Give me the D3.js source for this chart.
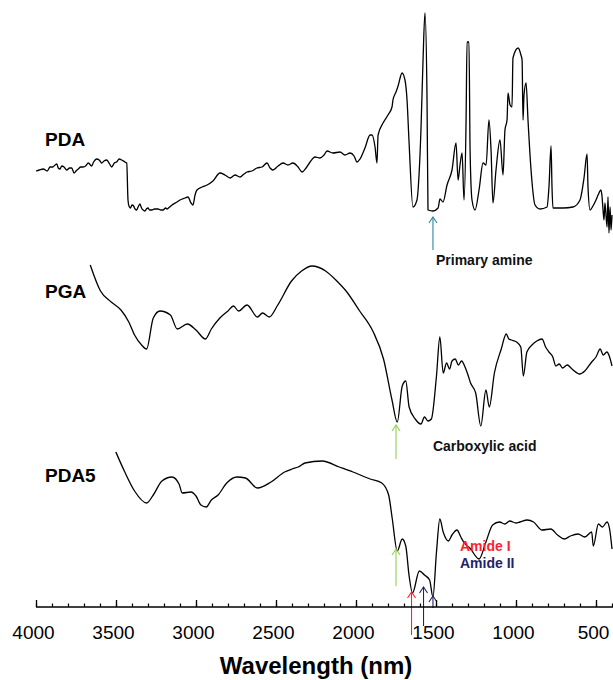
<!DOCTYPE html>
<html>
<head>
<meta charset="utf-8">
<script src="https://cdn.jsdelivr.net/npm/d3@7"></script>
<style>
  body { margin: 0; background: #fff; }
  svg { display: block; font-family: Arial, "Liberation Sans", sans-serif; }
</style>
</head>
<body>
<svg id="chart" width="613" height="680"></svg>
<script>
// wavenumber (cm-1) and transmittance (a.u.)
const pdaWn = [4000,3980,3954,3930,3912,3895,3881,3870,3861,3850,3839,3825,3808,3790,3777,3762,3750,3736,3720,3704,3690,
  3673,3652,3640,3621,3605,3589,3575,3558,3540,3527,3510,3496,3480,3464,3444,3433,
  3425,3419,3410,3400,3390,3381,3370,3362,3350,3345,3337,3330,3319,3310,3300,3290,3275,3260,3237,3220,3206,3190,3181,3165,
  3150,3119,3100,3069,3050,3031,3019,3006,2994,2962,2931,
  2894,2850,2819,2787,2756,2725,2700,2681,2650,2619,2587,2556,2537,2519,2487,2456,2425,2394,2362,2337,2312,2287,2256,2225,
  2200,2181,2144,2100,2069,2037,2012,1994,1975,1944,1912,1900,1881,1869,1862,1831,1800,1775,1769,1750,1737,1712,1694,1681,
  1669,1644,1619,1606,1594,1581,1569,1556,1550,1519,1487,1475,1456,1431,1400,1375,1362,1350,1337,1325,1312,1306,1294,1287,
  1275,1256,1231,1206,1187,1169,1156,1144,1125,1100,1081,1069,1056,1050,1037,1025,1019,987,969,962,956,950,937,925,906,881,
  850,806,794,781,775,769,744,706,644,600,575,556,550,537,519,500,487,469,462,456,450,444,431,425,419,412,406,400];
const pdaT = [66,67,68,66,70,70,72,73,69,68,71,70,67,69,69,64,66,68,70,70,71,
  74,71,75,78,77,74,76,77,73,70,74,75,78,77,75,74,
  37,31,29,32,31,28,27,30,33,31,28,27,26,28,29,27,27,28,28,27,27,29,28,30,
  32,35,37,39,40,34,32,42,47,50,52,
  56,64,62,59,62,60,63,65,66,69,70,74,69,67,71,74,72,74,70,65,69,75,80,79,
  82,86,84,85,82,84,81,75,78,89,102,102,90,74,102,114,122,130,137,145,151,164,157,137,
  97,30,37,62,107,177,224,137,27,26,29,38,35,52,67,94,57,72,84,37,117,195,195,87,
  37,27,47,74,72,117,87,34,67,97,62,107,117,144,132,130,179,189,182,177,117,142,154,117,67,32,
  28,30,50,91,50,29,29,29,30,37,59,83,50,27,31,37,42,47,40,27,17,34,10,40,4,30,7,22];

const pgaWn = [3661,3597,3530,3469,3420,3384,3340,3309,3267,3225,3160,3117,3054,3000,2941,2904,2851,2800,2766,2734,2681,
  2616,2584,2542,2489,2403,2340,2275,2190,2120,2062,1977,1892,1828,1775,1742,1711,1689,1668,1630,1594,1572,1550,1529,1497,
  1476,1455,1434,1415,1400,1380,1360,1340,1316,1300,1284,1252,1220,1188,1167,1135,1092,1061,1045,1029,996,970,954,932,
  900,870,837,815,794,770,751,730,709,680,650,602,570,527,500,474,455,432,415,400];
const pgaT = [162,136,125,117,105,92,82,78,109,116,112,98,103,97,88,98,109,116,121,116,122,
  110,114,110,122,146,156,161,156,146,136,116,95,68,27,5,41,46,20,8,3,10,6,8,51,
  90,54,64,58,66,68,62,66,59,52,44,34,1,37,20,54,78,93,88,87,85,80,51,75,
  82,86,88,80,75,70,61,63,59,62,58,53,56,65,70,78,72,75,70,61];

const pda5Wn = [3501,3448,3384,3309,3267,3213,3150,3106,3086,3032,3000,2969,2936,2904,2862,2808,2744,2691,2616,2531,2446,
  2400,2361,2319,2211,2105,2019,1912,1839,1796,1774,1742,1711,1689,1668,1647,1604,1572,1540,1519,1497,1476,1455,1423,1400,
  1369,1345,1327,1284,1231,1188,1146,1103,1070,1039,1000,975,930,890,837,783,740,698,660,612,570,527,517,485,460,431,415,400];
const pda5T = [155,136,116,104,112,126,130,123,114,115,111,102,100,107,112,124,130,129,119,125,135,
  138,140,144,146,140,135,128,124,112,89,56,68,61,31,14,36,32,27,10,55,88,75,66,72,
  77,70,65,58,48,65,82,85,83,86,84,85,87,85,77,78,72,68,71,73,70,75,61,83,80,85,78,58];

const spectra = [
  { name: 'PDA', wn: pdaWn, t: pdaT, offset: 370 },
  { name: 'PGA', wn: pgaWn, t: pgaT, offset: 180 },
  { name: 'PDA5', wn: pda5Wn, t: pda5T, offset: 0 }
];

// arrows: spectrum, wavenumber, tail and head in that spectrum's units
const arrows = [
  { s: 0, wn: 1519, from: -13, to: 20, color: '#31849b' },
  { s: 1, wn: 1750, from: -32, to: 2, color: '#92d050' },
  { s: 2, wn: 1750, from: 21, to: 58, color: '#92d050' },
  { s: 2, wn: 1653, from: -28, to: 15, color: '#ff1f2f' },
  { s: 2, wn: 1578, from: -19, to: 20, color: '#1f2469' },
  { s: 2, wn: 1519, from: -1, to: 11, color: '#1f2469' }
];
const notes = [
  { s: 0, wn: 1500, t: -28, text: 'Primary amine', color: '#111' },
  { s: 1, wn: 1519, t: -24, text: 'Carboxylic acid', color: '#111' },
  { s: 2, wn: 1350, t: 56, text: 'Amide I', color: '#ff1f2f' },
  { s: 2, wn: 1350, t: 39, text: 'Amide II', color: '#1f2469' }
];
const majorTicks = [4000, 3500, 3000, 2500, 2000, 1500, 1000, 500];

const svg = d3.select('#chart');
const axisY = 607;

const x = d3.scaleLinear().domain([4000, 400]).range([36, 612]);
const y = d3.scaleLinear().domain([0, 600]).range([axisY, 7]);
const yOf = (s, v) => y(v + spectra[s].offset);

const line = d3.line().curve(d3.curveMonotoneX);

spectra.forEach((sp, i) => {
  const pts = sp.wn.map((w, k) => [x(w), yOf(i, sp.t[k])]);
  svg.append('path')
    .attr('d', line(pts))
    .attr('fill', 'none')
    .attr('stroke', '#000')
    .attr('stroke-width', 1.3)
    .attr('stroke-linejoin', 'round');
});

// spectrum names
const labelY = [146, 298, 482];
spectra.forEach((sp, i) => {
  svg.append('text')
    .attr('x', 45).attr('y', labelY[i])
    .style('font-size', '19px').style('font-weight', 'bold')
    .text(sp.name);
});

// arrows
arrows.forEach(a => {
  const ax = x(a.wn), y0 = yOf(a.s, a.from), y1 = yOf(a.s, a.to);
  const g = svg.append('g').attr('stroke', a.color).attr('fill', 'none').attr('stroke-width', 1.1);
  g.append('line').attr('x1', ax).attr('x2', ax).attr('y1', y0).attr('y2', y1);
  g.append('path').attr('d', `M${ax - 4},${y1 + 6}L${ax},${y1}L${ax + 4},${y1 + 6}`);
});

notes.forEach(n => {
  svg.append('text')
    .attr('x', x(n.wn)).attr('y', yOf(n.s, n.t))
    .attr('fill', n.color)
    .style('font-size', '14px').style('font-weight', 'bold')
    .text(n.text);
});

// x axis
const minor = d3.axisBottom(x).tickValues(d3.range(4000, 399, -100)).tickSizeInner(-3.5).tickSizeOuter(0).tickFormat('');
const major = d3.axisBottom(x).tickValues(majorTicks).tickSizeInner(-7).tickSizeOuter(0).tickPadding(19).tickFormat(d3.format('d'));

const gMinor = svg.append('g').attr('transform', `translate(0,${axisY})`).call(minor);
gMinor.select('.domain').remove();
gMinor.selectAll('line').attr('stroke', '#000').attr('stroke-width', 1.2);

const gMajor = svg.append('g').attr('transform', `translate(0,${axisY})`).call(major);
gMajor.select('.domain').attr('stroke', '#000').attr('stroke-width', 1.4).attr('d', `M${x(4000)},0H613`);
gMajor.selectAll('line').attr('stroke', '#000').attr('stroke-width', 1.3);
gMajor.selectAll('text').attr('fill', '#000').attr('dx', -3)
  .style('font-size', '19px').style('font-family', 'Arial, "Liberation Sans", sans-serif');

svg.append('text')
  .attr('x', 316).attr('y', 674)
  .attr('text-anchor', 'middle')
  .style('font-size', '24px').style('font-weight', 'bold')
  .text('Wavelength (nm)');
</script>
</body>
</html>
